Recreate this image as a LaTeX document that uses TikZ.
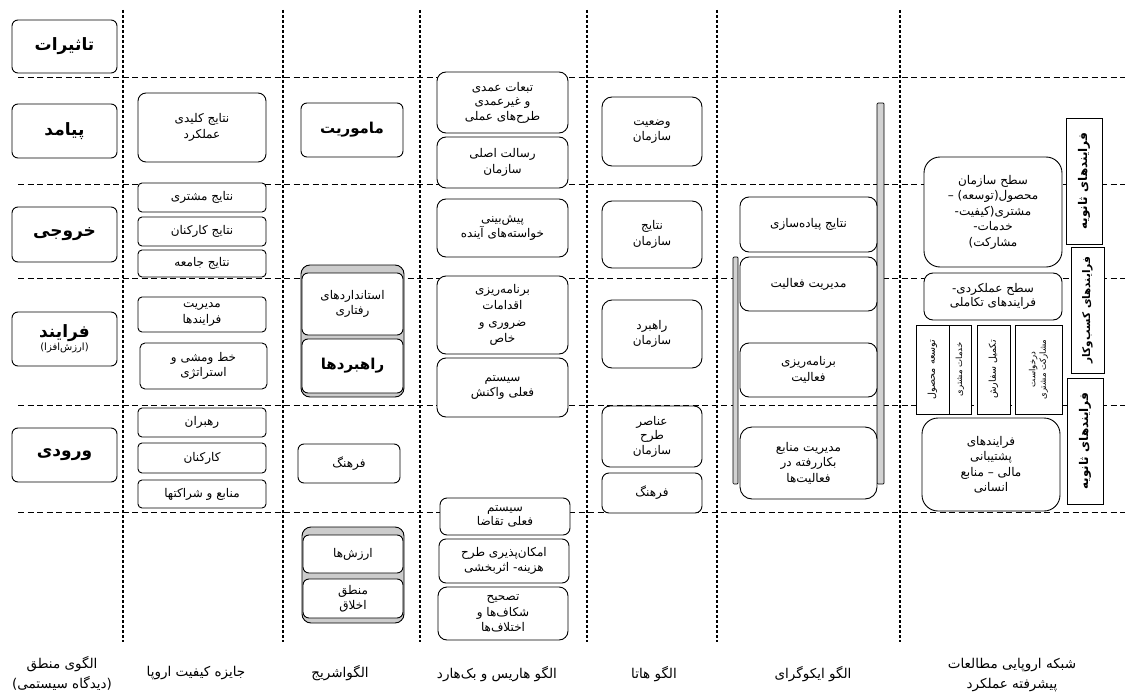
\documentclass[tikz,border=0pt]{standalone}
\usepackage{fontspec}
\setmainfont{DejaVu Sans}
\newfontfamily\arabicfont[Script=Arabic]{DejaVu Sans}
\TeXXeTstate=1
\newcommand\fatxt[1]{\beginR #1\endR}
\begin{document}
\begin{tikzpicture}[x=1pt,y=-1pt,
  every node/.style={font=\arabicfont\fontsize{12}{15.5}\selectfont, align=center, inner sep=1pt},
  bx/.style={draw, line width=0.9pt, rounded corners=6pt, fill=white},
  sqbx/.style={draw, line width=0.9pt, fill=white},
  big/.style={font=\arabicfont\bfseries\fontsize{17}{20}\selectfont},
  mid/.style={font=\arabicfont\bfseries\fontsize{15}{18}\selectfont},
  vbold/.style={font=\arabicfont\bfseries\fontsize{12}{14}\selectfont},
  vboldsm/.style={font=\arabicfont\bfseries\fontsize{10.5}{12}\selectfont},
  small/.style={font=\arabicfont\fontsize{9.5}{11}\selectfont},
  tiny/.style={font=\arabicfont\fontsize{8.5}{10.5}\selectfont},
  grp/.style={draw, line width=0.9pt, rounded corners=9pt, fill=gray!40},
  bar/.style={draw, line width=0.7pt, fill=gray!35, rounded corners=1pt},
  hdash/.style={dash pattern=on 6pt off 3.5pt, line width=1pt},
  vdash/.style={dash pattern=on 3pt off 2pt, line width=1.1pt},
  lbl/.style={font=\arabicfont\fontsize{13.5}{20}\selectfont}]
\useasboundingbox (0,0) rectangle (1125,693);
% grid
\foreach \x in {123,283,420,587,717,900} \draw[vdash] (\x,10) -- (\x,642);
\foreach \y in {78,184,278,405,512} \draw[hdash] (18,\y) -- (1125,\y);
% column 1
\node[bx, big, minimum width=105pt, minimum height=53pt] (c1a) at (64.5,46.5) {\fatxt{تاثیرات}};
\node[bx, big, minimum width=105pt, minimum height=54pt] (c1b) at (64.5,131) {\fatxt{پیامد}};
\node[bx, big, minimum width=105pt, minimum height=55pt] (c1c) at (64.5,234.5) {\fatxt{خروجی}};
\node[bx, minimum width=105pt, minimum height=54pt] (c1d) at (64.5,339) {{\bfseries\fontsize{17}{20}\selectfont\fatxt{فرایند}}\\[-2pt]{\fontsize{10}{12}\selectfont\fatxt{(ارزش‌افزا)}}};
\node[bx, big, minimum width=105pt, minimum height=54pt] (c1e) at (64.5,455) {\fatxt{ورودی}};
% column 2
\node[bx, rounded corners=8pt, minimum width=128pt, minimum height=69pt] (c2a) at (202,127.5) {\fatxt{نتایج کلیدی}\\\fatxt{عملکرد}};
\node[bx, rounded corners=4pt, minimum width=128pt, minimum height=29pt] (c2b) at (202,197.5) {\fatxt{نتایج مشتری}};
\node[bx, rounded corners=4pt, minimum width=128pt, minimum height=29pt] (c2c) at (202,231.5) {\fatxt{نتایج کارکنان}};
\node[bx, rounded corners=4pt, minimum width=128pt, minimum height=27pt] (c2d) at (202,263.5) {\fatxt{نتایج جامعه}};
\node[bx, rounded corners=4pt, minimum width=128pt, minimum height=35pt] (c2e) at (202,314.5) {\fatxt{مدیریت}\\\fatxt{فرایندها}};
\node[bx, rounded corners=5pt, minimum width=127pt, minimum height=46pt] (c2f) at (203.5,366) {\fatxt{خط ومشی و}\\\fatxt{استراتژی}};
\node[bx, rounded corners=4pt, minimum width=128pt, minimum height=29pt] (c2g) at (202,422.5) {\fatxt{رهبران}};
\node[bx, rounded corners=4pt, minimum width=128pt, minimum height=30pt] (c2h) at (202,458) {\fatxt{کارکنان}};
\node[bx, rounded corners=4pt, minimum width=128pt, minimum height=28pt] (c2i) at (202,494) {\fatxt{منابع و شراکتها}};
% column 3
\node[bx, mid, minimum width=102pt, minimum height=54pt] (c3a) at (352,130) {\fatxt{ماموریت}};
\draw[grp] (301,265) rectangle (404,397);
\node[bx, minimum width=101pt, minimum height=62pt] (c3b) at (352.5,304) {\fatxt{استانداردهای}\\\fatxt{رفتاری}};
\node[bx, mid, minimum width=101pt, minimum height=54pt] (c3c) at (352.5,366) {\fatxt{راهبردها}};
\node[bx, minimum width=102pt, minimum height=39pt] (c3d) at (349,463.5) {\fatxt{فرهنگ}};
\draw[grp] (302,527) rectangle (404,623);
\node[bx, minimum width=100pt, minimum height=38pt] (c3e) at (353,554) {\fatxt{ارزش‌ها}};
\node[bx, minimum width=100pt, minimum height=39pt] (c3f) at (353,598.5) {\fatxt{منطق}\\\fatxt{اخلاق}};
% column 4
\node[bx, rounded corners=9pt, minimum width=131pt, minimum height=61pt] (c4a) at (502.5,102.5) {\fatxt{تبعات عمدی}\\[-1pt]\fatxt{و غیرعمدی}\\[-1pt]\fatxt{طرح‌های عملی}};
\node[bx, rounded corners=9pt, minimum width=131pt, minimum height=51pt] (c4b) at (502.5,162.5) {\fatxt{رسالت اصلی}\\\fatxt{سازمان}};
\node[bx, rounded corners=9pt, minimum width=131pt, minimum height=58pt] (c4c) at (502.5,228) {\fatxt{پیش‌بینی}\\\fatxt{خواسته‌های آینده}};
\node[bx, rounded corners=9pt, minimum width=131pt, minimum height=78pt] (c4d) at (502.5,315) {\fatxt{برنامه‌ریزی}\\[1pt]\fatxt{اقدامات}\\[1pt]\fatxt{ضروری و}\\[1pt]\fatxt{خاص}};
\node[bx, rounded corners=9pt, minimum width=131pt, minimum height=59pt] (c4e) at (502.5,387.5) {\fatxt{سیستم}\\\fatxt{فعلی واکنش}};
\node[bx, rounded corners=7pt, minimum width=130pt, minimum height=37pt] (c4f) at (505,516.5) {\fatxt{سیستم}\\[-1pt]\fatxt{فعلی تقاضا}};
\node[bx, rounded corners=7pt, minimum width=130pt, minimum height=44pt] (c4g) at (504,561) {\fatxt{امکان‌پذیری طرح}\\\fatxt{هزینه- اثربخشی}};
\node[bx, rounded corners=9pt, minimum width=130pt, minimum height=53pt] (c4h) at (503,613.5) {\fatxt{تصحیح}\\\fatxt{شکاف‌ها و}\\\fatxt{اختلاف‌ها}};
% column 5
\node[bx, rounded corners=10pt, minimum width=100pt, minimum height=69pt] (c5a) at (652,131.5) {\fatxt{وضعیت}\\\fatxt{سازمان}};
\node[bx, rounded corners=10pt, minimum width=100pt, minimum height=67pt] (c5b) at (652,234.5) {\fatxt{نتایج}\\\fatxt{سازمان}};
\node[bx, rounded corners=10pt, minimum width=100pt, minimum height=68pt] (c5c) at (652,334) {\fatxt{راهبرد}\\\fatxt{سازمان}};
\node[bx, rounded corners=8pt, minimum width=100pt, minimum height=61pt] (c5d) at (652,436.5) {\fatxt{عناصر}\\[-1pt]\fatxt{طرح}\\[-1pt]\fatxt{سازمان}};
\node[bx, rounded corners=7pt, minimum width=100pt, minimum height=40pt] (c5e) at (652,493) {\fatxt{فرهنگ}};
% column 6
\draw[bar] (877,103) rectangle (884,484);
\draw[bar] (733,257) rectangle (738,484);
\node[bx, rounded corners=9pt, minimum width=137pt, minimum height=55pt] (c6a) at (808.5,224.5) {\fatxt{نتایج پیاده‌سازی}};
\node[bx, rounded corners=9pt, minimum width=137pt, minimum height=54pt] (c6b) at (808.5,284) {\fatxt{مدیریت فعالیت}};
\node[bx, rounded corners=9pt, minimum width=137pt, minimum height=54pt] (c6c) at (808.5,370) {\fatxt{برنامه‌ریزی}\\\fatxt{فعالیت}};
\node[bx, rounded corners=12pt, minimum width=137pt, minimum height=72pt] (c6d) at (808.5,463) {\fatxt{مدیریت منابع}\\\fatxt{بکاررفته در}\\\fatxt{فعالیت‌ها}};
% column 7
\node[bx, rounded corners=16pt, minimum width=138pt, minimum height=110pt] (c7a) at (993,212) {\fatxt{سطح سازمان}\\\fatxt{محصول(توسعه) –}\\\fatxt{مشتری(کیفیت-}\\\fatxt{خدمات-}\\\fatxt{مشارکت)}};
\node[bx, rounded corners=9pt, minimum width=138pt, minimum height=47pt] (c7b) at (993,296.5) {\fatxt{سطح عملکردی-}\\[-1pt]\fatxt{فرایندهای تکاملی}};
\node[sqbx, small, rotate=90, minimum width=89pt, minimum height=33pt] (s1) at (932.5,369.5) {\fatxt{توسعه محصول}};
\node[sqbx, tiny, rotate=90, minimum width=89pt, minimum height=22pt] (s2) at (960,369.5) {\fatxt{خدمات مشتری}};
\node[sqbx, small, rotate=90, minimum width=89pt, minimum height=33pt] (s3) at (993.5,369.5) {\fatxt{تکمیل سفارش}};
\node[sqbx, tiny, rotate=90, minimum width=89pt, minimum height=47pt] (s4) at (1038.5,369.5) {\fatxt{درخواست}\\\fatxt{مشارکت مشتری}};
\node[bx, rounded corners=16pt, minimum width=138pt, minimum height=93pt] (c7c) at (991,464.5) {\fatxt{فرایندهای}\\\fatxt{پشتیبانی}\\\fatxt{مالی – منابع}\\\fatxt{انسانی}};
\node[sqbx, vbold, rotate=90, minimum width=126pt, minimum height=36pt] (v1) at (1084,181) {\fatxt{فرایندهای ثانویه}};
\node[sqbx, vboldsm, rotate=90, minimum width=126pt, minimum height=33pt] (v2) at (1087.5,310) {\fatxt{فرایندهای کسب‌وکار}};
\node[sqbx, vbold, rotate=90, minimum width=126pt, minimum height=36pt] (v3) at (1085,441) {\fatxt{فرایندهای ثانویه}};
% bottom labels
\node[lbl] (L1) at (62,673) {\fatxt{الگوی منطق}\\\fatxt{(دیدگاه سیستمی)}};
\node[lbl] (L2) at (196,673) {\fatxt{جایزه کیفیت اروپا}};
\node[lbl] (L3) at (340,673) {\fatxt{الگواشریج}};
\node[lbl] (L4) at (497,674) {\fatxt{الگو هاریس و بک‌هارد}};
\node[lbl] (L5) at (654,674) {\fatxt{الگو هاتا}};
\node[lbl] (L6) at (813,674) {\fatxt{الگو ایکوگرای}};
\node[lbl] (L7) at (1012,675) {\fatxt{شبکه اروپایی مطالعات}\\\fatxt{پیشرفته عملکرد}};
\end{tikzpicture}
\end{document}
